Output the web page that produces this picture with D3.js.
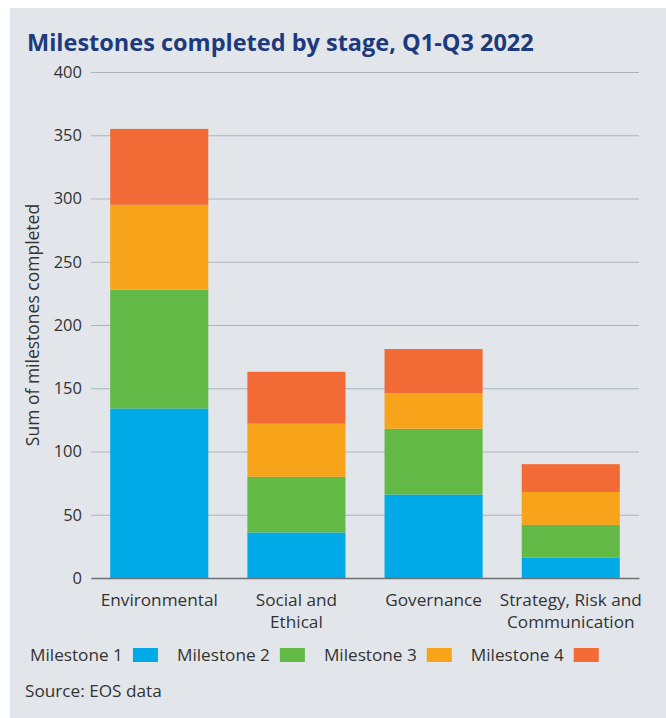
<!DOCTYPE html>
<html lang="en">
<head>
  <meta charset="utf-8">
  <title>Milestones completed by stage</title>
  <script src="https://cdn.jsdelivr.net/npm/d3@7/dist/d3.min.js"></script>
  <style>
    html, body { margin: 0; padding: 0; background: #fff; }
    svg { display: block; }
    .axis text { font-family: "Open Sans", sans-serif; fill: #333; }
    .axis--y text { font-size: 16.5px; }
    .axis--x text { font-size: 17.2px; }
    .axis--y .domain { display: none; }
    .axis--y line { stroke: #a9b5be; stroke-width: 1.2px; }
    .axis--x .domain { stroke: #6b7177; stroke-width: 1.5px; }
    .axis--x line { display: none; }
  </style>
</head>
<body>
<svg width="666" height="718"></svg>
<script>

  var stages = ["Environmental", "Social and Ethical", "Governance", "Strategy, Risk and Communication"];
  var stageLines = [["Environmental"], ["Social and", "Ethical"], ["Governance"], ["Strategy, Risk and", "Communication"]];
  var milestones = ["Milestone 1", "Milestone 2", "Milestone 3", "Milestone 4"];
  var colors = ["#00aae6", "#62b946", "#f8a41b", "#f26a36"];

  // values per stage, same order as stages
  var milestone1 = [134, 36, 66, 16];
  var milestone2 = [94, 44, 52, 26];
  var milestone3 = [67, 42, 28, 26];
  var milestone4 = [60, 41, 35, 22];
  var yTicks = [0, 50, 100, 150, 200, 250, 300, 350, 400];

  var svg = d3.select("svg"),
      margin = {top: 72, right: 27, bottom: 140, left: 91},
      width = +svg.attr("width") - margin.left - margin.right,
      height = +svg.attr("height") - margin.top - margin.bottom;

  // grey panel
  svg.append("rect")
      .attr("x", 10).attr("y", 8)
      .attr("width", 656).attr("height", 710)
      .attr("fill", "#e2e6ea");

  svg.append("text")
      .attr("x", 27).attr("y", 51)
      .attr("fill", "#1d3a7c")
      .style("font", "bold 23.5px 'Open Sans', sans-serif")
      .text("Milestones completed by stage, Q1-Q3 2022");

  var table = stages.map(function(s, i) {
    return {stage: s, m1: milestone1[i], m2: milestone2[i], m3: milestone3[i], m4: milestone4[i]};
  });
  var keys = ["m1", "m2", "m3", "m4"];
  var series = d3.stack().keys(keys)(table);

  var x = d3.scaleBand().domain(stages).range([0, width]).paddingInner(0.285).paddingOuter(0.14),
      y = d3.scaleLinear().domain([0, 400]).range([height, 0]),
      z = d3.scaleOrdinal().domain(keys).range(colors);

  var g = svg.append("g").attr("transform", "translate(" + margin.left + "," + margin.top + ")");

  g.append("g")
      .attr("class", "axis axis--y")
      .call(d3.axisLeft(y).tickValues(yTicks).tickSize(-width).tickPadding(9));

  g.selectAll(".layer")
    .data(series)
    .enter().append("g")
      .attr("class", "layer")
      .attr("fill", function(d) { return z(d.key); })
    .selectAll("rect")
    .data(function(d) { return d; })
    .enter().append("rect")
      .attr("x", function(d) { return x(d.data.stage); })
      .attr("y", function(d) { return y(d[1]); })
      .attr("height", function(d) { return y(d[0]) - y(d[1]); })
      .attr("width", x.bandwidth());

  var xAxis = g.append("g")
      .attr("class", "axis axis--x")
      .attr("transform", "translate(0," + height + ")")
      .call(d3.axisBottom(x).tickSize(0).tickPadding(0).tickSizeOuter(0));

  xAxis.selectAll(".tick text").each(function(d, i) {
    var t = d3.select(this).text(null).attr("y", 0).attr("dy", null);
    stageLines[i].forEach(function(line, j) {
      t.append("tspan").attr("x", 0).attr("y", 28 + j * 22).text(line);
    });
  });

  // y-axis title
  svg.append("text")
      .attr("transform", "translate(39," + (margin.top + height / 2) + ") rotate(-90)")
      .attr("text-anchor", "middle")
      .attr("fill", "#333")
      .style("font", "17.5px 'Open Sans', sans-serif")
      .text("Sum of milestones completed");

  // legend: label then swatch
  var legend = svg.append("g").attr("transform", "translate(30,655)");
  var lx = 0;
  milestones.forEach(function(m, i) {
    var t = legend.append("text")
        .attr("x", lx).attr("y", 6)
        .attr("fill", "#333")
        .style("font", "17.2px 'Open Sans', sans-serif")
        .text(m);
    var w = t.node().getComputedTextLength();
    legend.append("rect")
        .attr("x", lx + w + 10).attr("y", -7)
        .attr("width", 25).attr("height", 14)
        .attr("fill", colors[i]);
    lx += w + 10 + 25 + 19;
  });

  svg.append("text")
      .attr("x", 25).attr("y", 697)
      .attr("fill", "#333")
      .style("font", "17.2px 'Open Sans', sans-serif")
      .text("Source: EOS data");

</script>
</body>
</html>
